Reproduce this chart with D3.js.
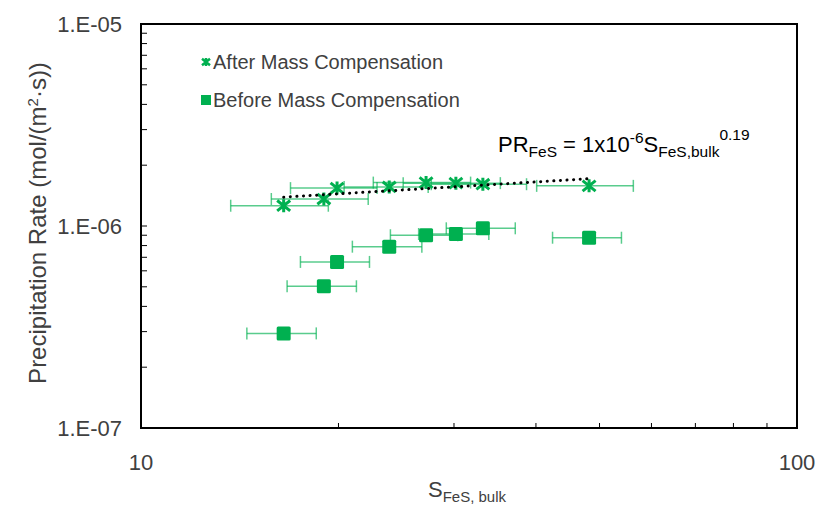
<!DOCTYPE html>
<html>
<head>
<meta charset="utf-8">
<script src="https://cdn.jsdelivr.net/npm/d3@7"></script>
<style>
    body { margin: 0; background: #fff; }
    text { font-family: "Liberation Sans", Arial, sans-serif; fill: #404040; }
</style>
</head>
<body>
<div id="chart"></div>
<script>
// supersaturation (shared by both series)
const sBulk = [16.5, 19.0, 19.9, 23.9, 27.2, 30.2, 33.2, 48.2];
// after mass compensation
const prAfter = [1.26e-6, 1.36e-6, 1.54e-6, 1.56e-6, 1.64e-6, 1.63e-6, 1.61e-6, 1.58e-6];
const errAfter = [2.8, 3.2, 3.0, 3.5, 4.6, 5.1, 5.5, 8.1];
// before mass compensation
const prBefore = [2.94e-7, 5.03e-7, 6.64e-7, 7.9e-7, 9.0e-7, 9.13e-7, 9.74e-7, 8.75e-7];
const errBefore = [2.0, 2.3, 2.4, 2.9, 3.2, 3.7, 4.0, 5.8];

const seriesNames = ["After Mass Compensation", "Before Mass Compensation"];
const yTicks = [1e-7, 1e-6, 1e-5];
const xTicks = [10, 100];

const width = 820;
const height = 506;
const margin = {top: 24, right: 23, bottom: 78, left: 141};
const green = "#00B050";

const svg = d3.select("#chart")
    .append("svg")
    .attr("width", width)
    .attr("height", height);

const x = d3.scaleLog()
    .domain([10, 100])
    .range([margin.left, width - margin.right]);

const y = d3.scaleLog()
    .domain([1e-7, 1e-5])
    .range([height - margin.bottom, margin.top]);

// minor ticks, drawn inside the frame
const xMinor = d3.range(20, 100, 10);
const yMinor = [];
[1e-7, 1e-6].forEach(function (d) {
    for (let k = 1; k < 10; k++) yMinor.push(d * k);
});

svg.append("g")
    .selectAll("line")
    .data(xMinor)
    .enter()
    .append("line")
    .attr("x1", d => x(d)).attr("x2", d => x(d))
    .attr("y1", y(1e-7)).attr("y2", y(1e-7) - 5)
    .attr("stroke", "#000")
    .attr("stroke-width", 1);

svg.append("g")
    .selectAll("line")
    .data(yMinor)
    .enter()
    .append("line")
    .attr("x1", x(10)).attr("x2", x(10) + 6)
    .attr("y1", d => y(d)).attr("y2", d => y(d))
    .attr("stroke", "#000")
    .attr("stroke-width", 1);

// frame
svg.append("rect")
    .attr("x", x(10))
    .attr("y", y(1e-5))
    .attr("width", x(100) - x(10))
    .attr("height", y(1e-7) - y(1e-5))
    .attr("fill", "none")
    .attr("stroke", "#000")
    .attr("stroke-width", 2);

// tick labels
svg.append("g")
    .selectAll("text")
    .data(yTicks)
    .enter()
    .append("text")
    .attr("x", x(10) - 19)
    .attr("y", d => y(d))
    .attr("dy", "0.36em")
    .attr("text-anchor", "end")
    .style("font-size", "22px")
    .text(d => "1.E-0" + Math.round(-Math.log10(d)));

svg.append("g")
    .selectAll("text")
    .data(xTicks)
    .enter()
    .append("text")
    .attr("x", d => x(d))
    .attr("y", y(1e-7) + 42)
    .attr("text-anchor", "middle")
    .style("font-size", "22px")
    .text(d => d);

// axis titles
svg.append("text")
    .attr("transform", "translate(46," + ((y(1e-5) + y(1e-7)) / 2 - 3) + ") rotate(-90)")
    .attr("text-anchor", "middle")
    .style("font-size", "24px")
    .html('Precipitation Rate (mol/(m<tspan dy="-8" font-size="15px">2</tspan><tspan dy="8">·s))</tspan>');

svg.append("text")
    .attr("x", (x(10) + x(100)) / 2 - 2)
    .attr("y", 497)
    .attr("text-anchor", "middle")
    .style("font-size", "22px")
    .html('S<tspan dy="5" font-size="15px">FeS, bulk</tspan>');

const chartData = sBulk.map(function (s, i) {
    return {s: s, after: prAfter[i], ea: errAfter[i], before: prBefore[i], eb: errBefore[i]};
});

function errorBars(key, errKey) {
    const g = svg.append("g")
        .attr("stroke", green)
        .attr("stroke-opacity", 0.65)
        .attr("stroke-width", 1.5);
    g.selectAll("line.bar")
        .data(chartData)
        .enter()
        .append("line")
        .attr("x1", d => x(d.s - d[errKey]))
        .attr("x2", d => x(d.s + d[errKey]))
        .attr("y1", d => y(d[key]))
        .attr("y2", d => y(d[key]));
    [-1, 1].forEach(function (sign) {
        g.selectAll("line.cap" + sign)
            .data(chartData)
            .enter()
            .append("line")
            .attr("x1", d => x(d.s + sign * d[errKey]))
            .attr("x2", d => x(d.s + sign * d[errKey]))
            .attr("y1", d => y(d[key]) - 6)
            .attr("y2", d => y(d[key]) + 6);
    });
}

errorBars("before", "eb");
errorBars("after", "ea");

// square markers
const sq = 14;
svg.append("g")
    .selectAll("rect")
    .data(chartData)
    .enter()
    .append("rect")
    .attr("x", d => x(d.s) - sq / 2)
    .attr("y", d => y(d.before) - sq / 2)
    .attr("width", sq)
    .attr("height", sq)
    .attr("rx", 1.5)
    .attr("fill", green);

// star markers (X plus vertical stroke)
function starPath(r) {
    return "M" + (-r) + "," + (-r * 0.8) + "L" + r + "," + (r * 0.8) +
        "M" + r + "," + (-r * 0.8) + "L" + (-r) + "," + (r * 0.8) +
        "M0," + (-r) + "L0," + r;
}

svg.append("g")
    .selectAll("path")
    .data(chartData)
    .enter()
    .append("path")
    .attr("transform", d => "translate(" + x(d.s) + "," + y(d.after) + ")")
    .attr("d", starPath(6.5))
    .attr("fill", "none")
    .attr("stroke", green)
    .attr("stroke-width", 3);

// power trendline, least squares in log space
const lx = sBulk.map(Math.log10);
const ly = prAfter.map(Math.log10);
const mx = d3.mean(lx);
const my = d3.mean(ly);
const slope = d3.sum(lx, (d, i) => (d - mx) * (ly[i] - my)) / d3.sum(lx, d => (d - mx) * (d - mx));
const trendX = d3.extent(sBulk);
const trend = trendX.map(s => ({s: s, pr: Math.pow(10, my + slope * (Math.log10(s) - mx))}));

svg.append("path")
    .datum(trend)
    .attr("d", d3.line().x(d => x(d.s)).y(d => y(d.pr)))
    .attr("fill", "none")
    .attr("stroke", "#000")
    .attr("stroke-width", 3)
    .attr("stroke-linecap", "round")
    .attr("stroke-dasharray", "0.1 6.5");

// equation
svg.append("text")
    .attr("x", 498)
    .attr("y", 152)
    .style("font-size", "22px")
    .style("fill", "#000")
    .html('PR<tspan dy="5" font-size="15.5px">FeS</tspan><tspan dy="-5"> = 1x10</tspan>' +
        '<tspan dy="-9" font-size="15.5px">-6</tspan><tspan dy="9">S</tspan>' +
        '<tspan dy="5" font-size="15.5px">FeS,bulk</tspan><tspan dy="-17" font-size="15.5px">0.19</tspan>');

// legend
const legend = svg.append("g");
legend.append("path")
    .attr("transform", "translate(206,62)")
    .attr("d", starPath(4))
    .attr("fill", "none")
    .attr("stroke", green)
    .attr("stroke-width", 2.5);
legend.append("rect")
    .attr("x", 201).attr("y", 95)
    .attr("width", 10).attr("height", 10)
    .attr("fill", green);
legend.selectAll("text")
    .data(seriesNames)
    .enter()
    .append("text")
    .attr("x", 213)
    .attr("y", (d, i) => 62 + i * 38)
    .attr("dy", "0.36em")
    .style("font-size", "20px")
    .text(d => d);
</script>
</body>
</html>
